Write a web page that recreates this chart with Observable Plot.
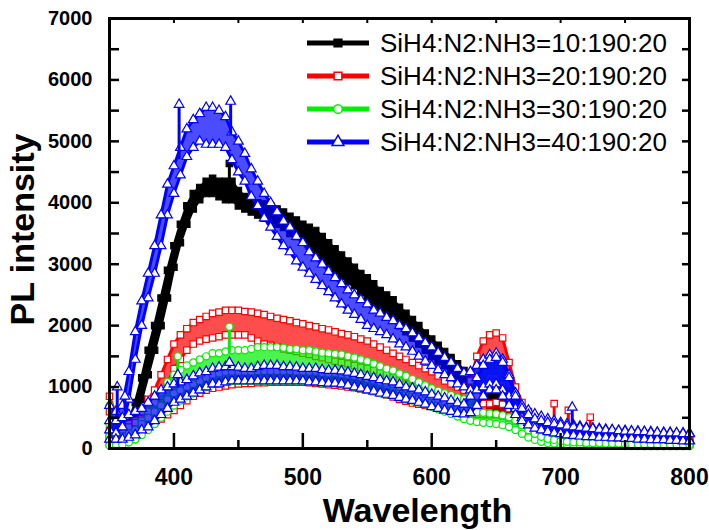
<!DOCTYPE html>
<html><head><meta charset="utf-8">
<script src="https://cdn.jsdelivr.net/npm/d3@7"></script>
<script src="https://cdn.jsdelivr.net/npm/@observablehq/plot@0.6"></script>
<style>
body{margin:0;background:#fff;font-family:"Liberation Sans",Arial,sans-serif;}
#wrap{position:relative;width:709px;height:530px;}
#legend{position:absolute;left:0;top:0;pointer-events:none;}
</style></head><body><div id="wrap"></div>
<script>
// sampling grid (nm)
const wavelengths = d3.range(350, 801, 5);
const seriesNames = ["SiH4:N2:NH3=10:190:20","SiH4:N2:NH3=20:190:20","SiH4:N2:NH3=30:190:20","SiH4:N2:NH3=40:190:20"];
const xTicks = [400, 500, 600, 700, 800];
const xMinor = [350, 450, 550, 650, 750];
const yTicks = [0,1000,2000,3000,4000,5000,6000,7000];
const yMinor = [500,1500,2500,3500,4500,5500,6500];

// black (10:190:20) band, lower / upper edge
const blackLo = [80,100,130,200,450,800,1200,1600,2000,2450,
 2950,3350,3650,3900,4050,4150,4150,4100,4050,4050,
 3950,3900,3850,3800,3750,3700,3650,3600,3500,3450,
 3400,3300,3200,3100,3000,2900,2800,2720,2650,2550,
 2450,2350,2280,2200,2100,2000,1900,1800,1700,1600,
 1500,1420,1350,1250,1150,1050,950,850,780,700,
 650,600,540,480,400,330,280,240,220,200,
 190,180,160,150,150,140,140,130,130,120,
 120,110,110,100,100,100,90,90,90,80, 80];
const blackHi = [200,220,300,420,750,1150,1600,2000,2450,2900,
 3300,3650,3950,4150,4250,4350,4400,4350,4350,4350,
 4200,4100,4050,4000,3980,3950,3900,3850,3780,3720,
 3650,3600,3550,3450,3350,3250,3150,3050,2950,2850,
 2780,2680,2570,2500,2420,2300,2200,2100,2000,1880,
 1780,1680,1580,1480,1380,1270,1180,1080,1000,930,
 880,820,760,680,580,480,400,350,320,300,
 300,280,260,250,240,240,230,220,220,210,
 210,200,200,190,190,180,180,170,170,160, 160];

// red (20:190:20): upper band and lower band
const redALo = [600,300,200,200,250,350,500,650,850,1050,
 1300,1450,1600,1700,1750,1780,1800,1820,1850,1850,
 1850,1850,1800,1750,1700,1680,1650,1620,1600,1580,
 1550,1530,1500,1480,1450,1420,1400,1380,1350,1320,
 1300,1270,1230,1200,1150,1100,1050,1000,980,950,
 920,900,870,850,820,800,850,1100,1350,1450,
 1500,1400,1000,700,500,400,330,300,260,250,
 230,220,200,190,180,170,160,160,150,150,
 140,140,130,130,120,120,110,110,100,100, 90];
const redAHi = [850,550,400,400,450,600,800,950,1200,1450,
 1700,1850,1950,2050,2100,2150,2200,2220,2250,2250,
 2250,2230,2220,2200,2180,2150,2120,2100,2080,2050,
 2030,2000,1980,1950,1930,1900,1870,1850,1820,1780,
 1750,1700,1650,1600,1550,1500,1450,1400,1350,1300,
 1250,1180,1100,1050,1000,950,1100,1500,1750,1850,
 1880,1800,1400,1000,750,600,500,450,400,380,
 360,340,320,300,290,280,270,260,250,240,
 230,230,220,210,210,200,200,190,190,180, 180];
const redCLo = [150,150,150,200,250,300,350,420,480,550,
 620,700,780,850,900,950,980,1000,1020,1040,
 1050,1060,1060,1070,1070,1080,1080,1080,1080,1080,
 1080,1070,1060,1050,1040,1030,1020,1000,990,970,
 950,930,900,870,840,800,770,740,720,700,
 700,680,660,640,620,600,580,560,550,550,
 550,530,500,450,400,350,300,270,240,210,
 200,180,170,160,150,140,130,120,120,110,
 110,100,100,90,90,90,80,80,80,80, 80];
const redCHi = [300,300,300,350,420,480,550,620,700,780,
 850,920,1000,1050,1100,1130,1160,1180,1200,1220,
 1230,1240,1250,1250,1260,1260,1260,1260,1260,1260,
 1260,1250,1240,1230,1220,1210,1200,1180,1170,1150,
 1130,1100,1080,1050,1020,980,950,920,900,880,
 880,860,840,820,800,780,760,740,730,730,
 750,720,650,600,550,500,450,400,360,330,
 320,300,280,260,250,240,230,220,210,200,
 190,180,180,170,170,160,160,150,150,150, 140];

// green (30:190:20): upper band and lower band
const greenALo = [400,100,80,100,150,250,350,450,600,780,
 900,980,1050,1100,1150,1200,1250,1250,1280,1300,
 1300,1300,1320,1350,1350,1350,1350,1330,1330,1320,
 1300,1300,1290,1280,1270,1260,1250,1220,1200,1170,
 1140,1100,1060,1030,1000,960,920,880,840,800,
 770,730,700,670,640,620,650,850,1050,1150,
 1150,1050,750,450,300,200,150,120,100,90,
 80,80,70,70,60,60,60,50,50,50,
 50,50,50,40,40,40,40,40,40,40, 40];
const greenAHi = [700,250,200,250,300,450,600,750,920,1080,
 1200,1280,1350,1400,1450,1500,1550,1550,1580,1600,
 1600,1600,1620,1650,1650,1650,1650,1640,1620,1620,
 1600,1600,1580,1560,1550,1540,1530,1500,1480,1450,
 1420,1380,1340,1300,1270,1220,1180,1130,1080,1030,
 980,940,900,870,830,800,900,1200,1400,1500,
 1520,1400,1050,700,500,380,300,260,230,210,
 200,190,180,170,160,150,150,140,140,130,
 130,120,120,120,110,110,110,100,100,100, 100];
const greenCLo = [50,50,60,100,150,220,300,400,500,600,
 700,780,850,900,950,1000,1050,1050,1080,1100,
 1100,1100,1100,1100,1100,1100,1100,1100,1100,1100,
 1100,1080,1080,1070,1060,1060,1050,1030,1000,980,
 950,930,900,880,860,830,800,780,750,720,
 680,640,600,560,520,480,450,430,420,410,
 400,380,350,300,240,180,140,110,90,80,
 70,70,60,60,60,50,50,50,50,50,
 40,40,40,40,40,40,40,40,40,40, 40];
const greenCHi = [200,180,200,250,300,400,500,600,700,800,
 900,950,1000,1050,1100,1150,1200,1220,1250,1250,
 1250,1250,1250,1260,1260,1260,1260,1260,1260,1250,
 1250,1250,1250,1230,1220,1220,1210,1200,1180,1160,
 1130,1110,1080,1060,1040,1000,970,950,920,890,
 850,800,760,720,680,640,610,590,580,570,
 560,540,510,460,380,300,240,190,160,140,
 120,110,100,100,90,90,90,80,80,80,
 70,70,70,70,70,60,60,60,60,60, 60];

// blue (40:190:20): upper band and lower band
const blueALo = [300,250,350,800,1450,2000,2450,2850,3300,3800,
 4150,4450,4750,4900,5000,4950,4950,4950,4900,4700,
 4500,4350,4100,3950,3750,3600,3450,3300,3200,3050,
 2950,2850,2750,2650,2550,2450,2350,2250,2180,2100,
 2000,1950,1900,1850,1780,1700,1650,1580,1500,1420,
 1350,1280,1200,1150,1050,1000,950,950,1000,1050,
 1050,950,850,650,500,420,380,330,300,280,
 260,240,230,220,210,200,200,190,190,180,
 180,170,170,160,160,150,150,140,140,130, 130];
const blueAHi = [700,600,700,1250,1900,2400,2850,3300,3800,4300,
 4600,4900,5200,5350,5450,5550,5550,5500,5400,5150,
 5000,4800,4550,4350,4150,4000,3850,3700,3600,3450,
 3350,3200,3100,3000,2880,2780,2680,2580,2500,2420,
 2350,2250,2200,2130,2080,2000,1950,1880,1800,1720,
 1650,1560,1480,1400,1300,1230,1250,1350,1450,1520,
 1550,1450,1200,900,700,620,560,520,480,450,
 420,400,380,360,340,330,320,310,300,290,
 290,280,280,270,270,260,260,260,250,250, 250];
const blueCLo = [150,150,150,180,220,300,350,450,550,650,
 750,800,850,900,950,1000,1050,1050,1080,1100,
 1100,1100,1100,1100,1100,1100,1100,1100,1100,1100,
 1100,1080,1080,1070,1060,1060,1050,1030,1000,980,
 950,930,900,880,860,830,800,780,750,720,
 680,650,620,600,570,560,580,700,850,950,
 950,850,700,550,450,380,330,300,270,250,
 240,220,210,200,190,190,180,180,170,170,
 160,160,150,150,140,140,140,130,130,120, 120];
const blueCHi = [450,450,500,550,600,650,750,850,950,1000,
 1050,1080,1120,1180,1230,1250,1300,1320,1330,1330,
 1320,1300,1300,1330,1350,1350,1350,1330,1330,1320,
 1300,1300,1300,1280,1270,1270,1260,1240,1220,1200,
 1170,1150,1120,1100,1080,1040,1000,980,950,920,
 880,850,820,780,740,720,850,1150,1350,1450,
 1480,1400,1150,850,650,550,480,450,420,400,
 380,360,350,340,330,320,310,300,300,290,
 280,280,270,270,260,260,250,250,250,240, 240];

// isolated spikes: wavelength, base, top
const blackSpikeWl = [443], blackSpikeBase = [4300], blackSpikeTop = [4640];
const redSpikeWl = [695, 706, 723], redSpikeBase = [380, 340, 290], redSpikeTop = [730, 620, 510];
const greenSpikeWl = [403, 443], greenSpikeBase = [1150, 1550], greenSpikeTop = [1500, 1980];
const blueSpikeWl = [356, 362, 404, 444, 709, 403, 443], blueSpikeBase = [500, 600, 4700, 5100, 380, 1000, 1300], blueSpikeTop = [1000, 850, 5600, 5650, 670, 1200, 1400];

const colors = ["#000000", "#ff0000", "#00ee00", "#0000ff"];
const symbols = ["square", "square", "circle", "triangle"];

function band(lo, hi) { return wavelengths.map((w, i) => ({w, lo: lo[i], hi: hi[i]})); }
function spikes(wl, base, top) { return wl.map((w, i) => ({w, base: base[i], top: top[i]})); }

const groups = [
  {k: 0, bands: [band(blackLo, blackHi)], sp: spikes(blackSpikeWl, blackSpikeBase, blackSpikeTop)},
  {k: 1, bands: [band(redALo, redAHi), band(redCLo, redCHi)], sp: spikes(redSpikeWl, redSpikeBase, redSpikeTop)},
  {k: 2, bands: [band(greenALo, greenAHi), band(greenCLo, greenCHi)], sp: spikes(greenSpikeWl, greenSpikeBase, greenSpikeTop)},
  {k: 3, bands: [band(blueALo, blueAHi), band(blueCLo, blueCHi)], sp: spikes(blueSpikeWl, blueSpikeBase, blueSpikeTop)}
];

const marks = [];
for (const g of groups) {
  const c = colors[g.k], s = symbols[g.k], solid = g.k === 0;
  const dotOpts = {x: "w", symbol: s, r: 3.6, stroke: c, strokeWidth: 1.2, fill: solid ? c : "white"};
  for (const b of g.bands) {
    marks.push(Plot.areaY(b, {x: "w", y1: "lo", y2: "hi", fill: c, fillOpacity: solid ? 1 : 0.7}));
    marks.push(Plot.lineY(b, {x: "w", y: "lo", stroke: c, strokeWidth: 3}));
    marks.push(Plot.lineY(b, {x: "w", y: "hi", stroke: c, strokeWidth: 3}));
  }
  for (const b of g.bands) {
    marks.push(Plot.dot(b, {...dotOpts, y: "lo"}));
    marks.push(Plot.dot(b, {...dotOpts, y: "hi"}));
  }
  marks.push(Plot.ruleX(g.sp, {x: "w", y1: "base", y2: "top", stroke: c, strokeWidth: 3}));
  marks.push(Plot.dot(g.sp, {...dotOpts, y: "top"}));
}

const chart = Plot.plot({
  width: 709, height: 530,
  marginLeft: 109, marginRight: 20, marginTop: 18, marginBottom: 82,
  style: {fontFamily: "'Liberation Sans', Arial, sans-serif", color: "#000", background: "#fff", overflow: "visible"},
  x: {domain: [350, 800]},
  y: {domain: [0, 7000]},
  marks: [
    ...marks,
    // ticks (inward)
    Plot.axisX(xTicks, {anchor: "bottom", tickSize: -15, tickFormat: () => "", label: null, strokeWidth: 2.5}),
    Plot.axisX(xMinor, {anchor: "bottom", tickSize: -8, tickFormat: () => "", label: null, strokeWidth: 2.5}),
    Plot.axisX(xTicks.concat(xMinor), {anchor: "top", tickSize: -4, tickFormat: () => "", label: null, strokeWidth: 2}),
    Plot.axisY(yTicks.concat(yMinor), {anchor: "left", tickSize: -10, tickFormat: () => "", label: null, strokeWidth: 2.5}),
    Plot.axisY(yTicks.concat(yMinor), {anchor: "right", tickSize: -8, tickFormat: () => "", label: null, strokeWidth: 2.5}),
    // tick labels
    Plot.axisX(xTicks, {anchor: "bottom", tickSize: 0, tickPadding: 20, label: null, tickFormat: d3.format("d"), fontSize: 23, fontWeight: "bold"}),
    Plot.axisY(yTicks, {anchor: "left", tickSize: 0, tickPadding: 17, label: null, tickFormat: d3.format("d"), fontSize: 20, fontWeight: "bold"}),
    Plot.frame({stroke: "#000", strokeWidth: 3}),
    // axis titles
    Plot.text(["Wavelength"], {frameAnchor: "bottom", lineAnchor: "middle", textAnchor: "middle", dx: 18, dy: 63, fontSize: 34, fontWeight: "bold"}),
    Plot.text(["PL intensity"], {frameAnchor: "left", lineAnchor: "middle", textAnchor: "middle", dx: -86, dy: -4, rotate: -90, fontSize: 34, fontWeight: "bold"})
  ]
});
const wrap = document.getElementById("wrap");
wrap.appendChild(chart);

// legend
const lg = d3.select(wrap).append("svg").attr("id", "legend").attr("width", 709).attr("height", 530);
const legendY = [43, 76, 109, 142];
seriesNames.forEach((name, i) => {
  const y = legendY[i], c = colors[i];
  lg.append("line").attr("x1", 307).attr("x2", 369).attr("y1", y).attr("y2", y).attr("stroke", c).attr("stroke-width", 5);
  const fill = i === 0 ? c : "white";
  const sym = d3.symbol().type(i === 2 ? d3.symbolCircle : i === 3 ? d3.symbolTriangle : d3.symbolSquare).size(60);
  lg.append("path").attr("d", sym()).attr("transform", `translate(338,${y})`).attr("fill", fill).attr("stroke", c).attr("stroke-width", 1.5);
  lg.append("text").attr("x", 380).attr("y", y).attr("dy", "0.35em").attr("font-size", 26)
    .attr("font-family", "'Liberation Sans', Arial, sans-serif").attr("fill", "#000").text(name);
});
</script></body></html>
